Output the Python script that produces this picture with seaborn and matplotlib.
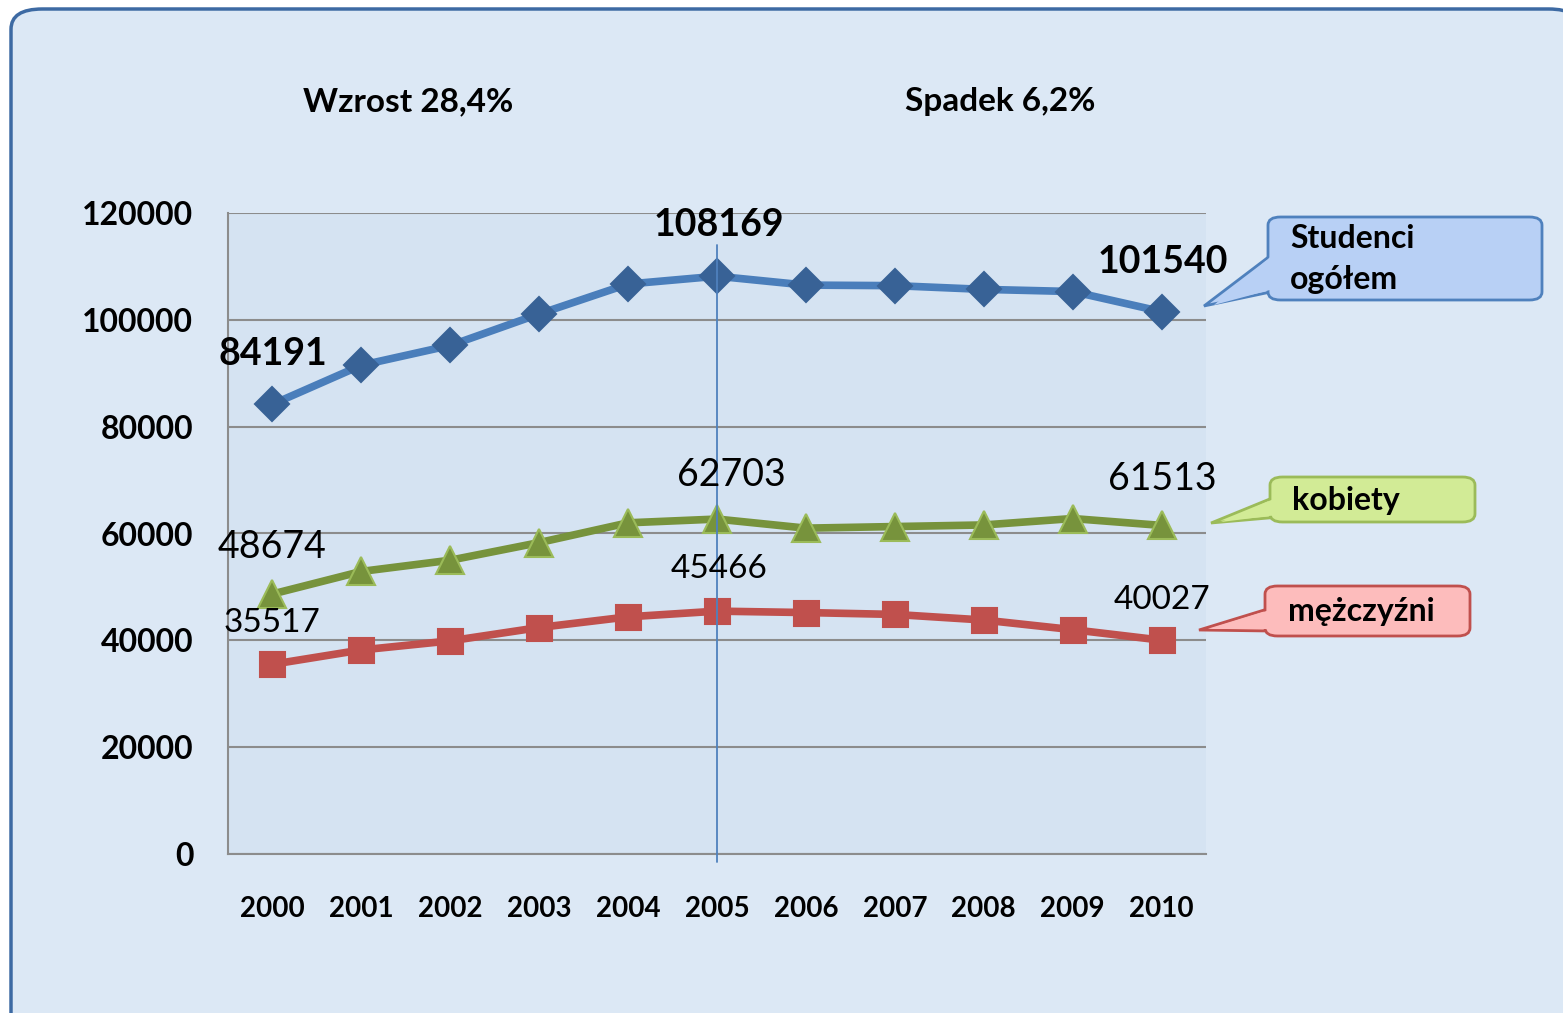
import numpy as np
import pandas as pd
import matplotlib
matplotlib.use("Agg")
import matplotlib.pyplot as plt
import seaborn as sns
from matplotlib.patches import FancyBboxPatch, Polygon

years = [2000, 2001, 2002, 2003, 2004, 2005, 2006, 2007, 2008, 2009, 2010]
studenci = [84191, 91500, 95200, 101100, 106700, 108169, 106500, 106400, 105700, 105300, 101540]
kobiety = [48674, 52900, 55000, 58300, 62000, 62703, 61000, 61300, 61600, 62800, 61513]
mezczyzni = [35517, 38200, 39900, 42400, 44400, 45466, 45200, 44850, 43800, 42000, 40027]
y_ticks = [0, 20000, 40000, 60000, 80000, 100000, 120000]

W, H = 1563, 1013

sns.set_theme(style="white")
plt.rcParams['font.family'] = ['Lato', 'DejaVu Sans']
plt.rcParams['text.color'] = 'black'
plt.rcParams['xtick.color'] = 'black'
plt.rcParams['ytick.color'] = 'black'

fig = plt.figure(figsize=(W / 100, H / 100), dpi=100)
fig.patch.set_facecolor("white")

def fx(x):
    return x / W

def fy(y):
    return 1 - y / H

# background panel with rounded border
bg = FancyBboxPatch((fx(11), fy(1040)), fx(1580) - fx(11), fy(9) - fy(1040),
                    boxstyle="round,pad=0,rounding_size=0.02",
                    transform=fig.transFigure, facecolor="#dce8f5",
                    edgecolor="#3d6aa3", linewidth=2.5, zorder=-10)
fig.patches.append(bg)

ax = fig.add_axes([fx(228), fy(854), fx(1206) - fx(228), fy(213) - fy(854)])
ax.set_facecolor("#d5e3f2")

series = [
    (studenci, "#4a7ebb", "D", 17, "#386296", "#386296"),
    (kobiety, "#77933c", "^", 20, "#77933c", "#9bbb59"),
    (mezczyzni, "#c0504d", "s", 18, "#c0504d", "#c0504d"),
]
for vals, col, mk, ms, mfc, mec in series:
    df = pd.DataFrame({"rok": years, "liczba": vals})
    sns.lineplot(data=df, x="rok", y="liczba", ax=ax, color=col, lw=5.5,
                 marker=mk, markersize=ms, markerfacecolor=mfc,
                 markeredgecolor=mec, markeredgewidth=1.5, zorder=3)

ax.set_xlim(1999.5, 2010.5)
ax.set_ylim(0, 120000)
ax.set_yticks(y_ticks)
ax.set_yticklabels([str(v) for v in y_ticks], fontsize=23, fontweight="bold")
ax.set_xticks(years)
ax.set_xticklabels([str(y) for y in years], fontsize=20, fontweight="bold")
ax.set_xticks(np.arange(1999.5, 2011, 1), minor=True)
ax.tick_params(axis="x", which="major", length=0, pad=30)
ax.tick_params(axis="x", which="minor", length=8, width=1.3, color="#8c8c8c", direction="out")
ax.tick_params(axis="y", length=9, width=1.3, color="#8c8c8c", pad=16, direction="out")
ax.set_xlabel("")
ax.set_ylabel("")
ax.grid(axis="y", color="#8c8c8c", lw=1.5)
ax.grid(axis="x", visible=False)
for side in ["top", "right"]:
    ax.spines[side].set_visible(False)
for side in ["left", "bottom"]:
    ax.spines[side].set_color("#8c8c8c")
    ax.spines[side].set_linewidth(1.5)

# vertical divider at 2005
ax.axvline(2005, ymin=-0.012, ymax=0.95, color="#4f81bd", lw=1.3, clip_on=False, zorder=4)

# data labels
labels = [
    (0, studenci, "bold", 27, 50),
    (5, studenci, "bold", 27, 51),
    (10, studenci, "bold", 27, 50),
    (0, kobiety, "normal", 27, 47),
    (5, kobiety, "normal", 27, 44),
    (10, kobiety, "normal", 27, 46),
    (0, mezczyzni, "normal", 24, 41),
    (5, mezczyzni, "normal", 24, 42),
    (10, mezczyzni, "normal", 24, 40),
]
x_shift = {0: 0, 5: 2, 10: 1}
for i, vals, wt, fs, dy in labels:
    dx = x_shift[i]
    if vals is kobiety and i == 5:
        dx = 14
    ax.annotate(str(vals[i]), (years[i], vals[i]), textcoords="offset pixels",
                xytext=(dx, dy), ha="center", va="center", fontsize=fs,
                fontweight=wt, color="black", zorder=5)

fig.text(fx(408), fy(102), "Wzrost 28,4%", ha="center", va="center",
         fontsize=24, fontweight="bold")
fig.text(fx(1000), fy(102), "Spadek 6,2%", ha="center", va="center",
         fontsize=24, fontweight="bold")

def callout(x0, y0, x1, y1, tip, fill, edge):
    ymid1 = y0 + (y1 - y0) * 0.45
    ymid2 = y0 + (y1 - y0) * 0.9
    tri = [(fx(x0 + 4), fy(ymid1)), (fx(tip[0]), fy(tip[1])), (fx(x0 + 4), fy(ymid2))]
    fig.patches.append(Polygon(tri, closed=True, transform=fig.transFigure,
                               facecolor=fill, edgecolor=edge, lw=2, zorder=5))
    fig.patches.append(FancyBboxPatch((fx(x0), fy(y1)), fx(x1) - fx(x0), fy(y0) - fy(y1),
                                      boxstyle="round,pad=0,rounding_size=0.008",
                                      transform=fig.transFigure, facecolor=fill,
                                      edgecolor=edge, lw=2, zorder=6))
    tri2 = [(fx(x0 + 3), fy(ymid1 + 2)), (fx(tip[0] + 10), fy(tip[1] - 1)),
            (fx(x0 + 3), fy(ymid2 - 2))]
    fig.patches.append(Polygon(tri2, closed=True, transform=fig.transFigure,
                               facecolor=fill, edgecolor="none", zorder=7))

callout(1268, 217, 1542, 300, (1204, 306), "#b8d0f5", "#4f81bd")
callout(1270, 477, 1475, 522, (1211, 523), "#d2eb96", "#9bbb59")
callout(1265, 586, 1470, 636, (1199, 630), "#fdbcbc", "#c0504d")

fig.text(fx(1290), fy(238), "Studenci", ha="left", va="center", fontsize=23, fontweight="bold", zorder=8)
fig.text(fx(1290), fy(280), "ogółem", ha="left", va="center", fontsize=23, fontweight="bold", zorder=8)
fig.text(fx(1292), fy(500), "kobiety", ha="left", va="center", fontsize=23, fontweight="bold", zorder=8)
fig.text(fx(1288), fy(611), "mężczyźni", ha="left", va="center", fontsize=23, fontweight="bold", zorder=8)

fig.savefig("out.png", dpi=100)
